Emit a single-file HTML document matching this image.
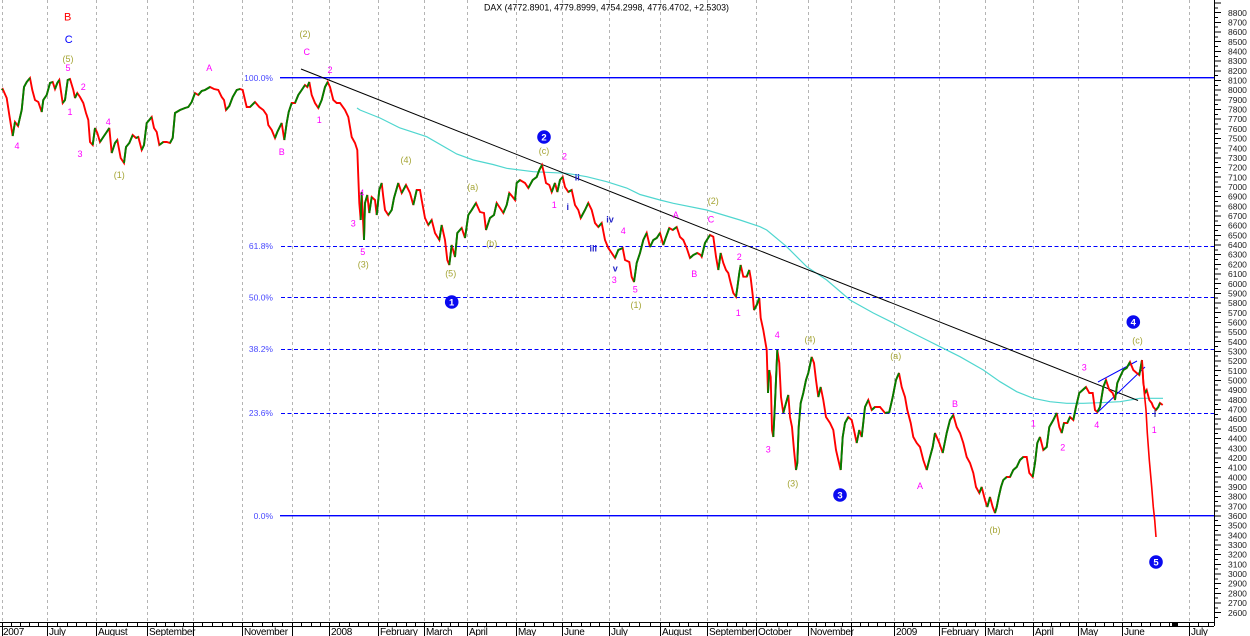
<!DOCTYPE html>
<html><head><meta charset="utf-8"><style>
html,body{margin:0;padding:0;background:#fff;}
svg{display:block;font-family:"Liberation Sans",Arial,sans-serif;}
.m{fill:#ff00ff;font-size:9px;text-anchor:middle;}
.o{fill:#a5a535;font-size:9px;text-anchor:middle;}
.r{fill:#2424c8;font-size:9px;text-anchor:middle;font-weight:bold;}
.f{fill:#4848ff;font-size:8.5px;text-anchor:end;}
.ax{fill:#202020;font-size:8.5px;}
.mo{fill:#000;font-size:10px;letter-spacing:-0.3px;}
.cn{fill:#fff;font-size:9.5px;font-weight:bold;text-anchor:middle;}
</style></head><body>
<svg width="1250" height="636" viewBox="0 0 1250 636" xmlns="http://www.w3.org/2000/svg">
<rect width="1250" height="636" fill="#fff"/>
<!-- vertical gray grid -->
<g stroke="#b4b4b4" stroke-width="1" stroke-dasharray="3 3" shape-rendering="crispEdges">
<path d="M2.5,0V621M47.5,0V621M96.5,0V621M147.5,0V621M193.5,0V621M242.5,0V621M292.5,0V621M329.5,0V621M378.5,0V621M424.5,0V621M467.5,0V621M516.5,0V621M562.5,0V621M609.5,0V621M660.5,0V621M707.5,0V621M756.5,0V621M808.5,0V621M851.5,0V621M894.5,0V621M939.5,0V621M985.5,0V621M1033.5,0V621M1078.5,0V621M1122.5,0V621M1189.5,0V621"/>
</g>
<!-- fib lines -->
<g stroke="#0000ff" stroke-width="1" fill="none" shape-rendering="crispEdges">
<line x1="280" y1="77.5" x2="1214" y2="77.5"/>
<line x1="280" y1="78.5" x2="1214" y2="78.5" stroke-opacity="0.4"/>
<line x1="280" y1="515.5" x2="1214" y2="515.5"/>
<line x1="280" y1="516.5" x2="1214" y2="516.5" stroke-opacity="0.4"/>
<g stroke-dasharray="4 2.5">
<line x1="281" y1="246.5" x2="1214" y2="246.5"/>
<line x1="281" y1="297.5" x2="1214" y2="297.5"/>
<line x1="281" y1="349.5" x2="1214" y2="349.5"/>
<line x1="281" y1="413.5" x2="1214" y2="413.5"/>
</g>
</g>
<text class="f" x="273" y="81">100.0%</text>
<text class="f" x="273" y="249">61.8%</text>
<text class="f" x="273" y="300.5">50.0%</text>
<text class="f" x="273" y="352">38.2%</text>
<text class="f" x="273" y="416">23.6%</text>
<text class="f" x="273" y="519">0.0%</text>
<!-- moving average -->
<polyline fill="none" stroke="#4fd6cf" stroke-width="1.2" points="357,108 360,110 380,118 400,128 426.7,136.7 456.7,154 473.3,160 493,164.5 506.7,168.3 533.3,171.7 566.7,173.3 586.7,176.7 606.7,181.7 626.7,188 640,194.5 660,200 673.3,203.3 706.7,210 740,220 760,226.7 766.7,230 786.7,246.7 806.7,266.7 826.7,280 850,300 873.3,313 893.3,323 906.7,330 926.7,340 940,346.7 960,356.7 983.3,370 1000,381.7 1016.7,391.7 1033.3,398.3 1050,401.7 1066.7,403.3 1083.3,403.3 1100,402.7 1120,401.7 1140,398.3 1163,398.3"/>
<!-- trendline -->
<line x1="301" y1="69" x2="1138" y2="400.5" stroke="#000" stroke-width="1"/>
<!-- channel -->
<g stroke="#0000ff" stroke-width="1">
<line x1="1098" y1="382" x2="1137" y2="361"/>
<line x1="1097" y1="413" x2="1145" y2="367"/>
</g>
<!-- price: red base -->
<polyline fill="none" stroke="#ff0000" stroke-width="1.9" stroke-linejoin="miter" stroke-miterlimit="3" points="1.7,90 2.7,89 6.7,98 9.3,115 12.7,136 15,122 18,126 21.7,110 24,87 26.7,82 30,78 32.3,90 35,100 38.3,102 41.7,112 43.3,100 46.7,95 50,83 52.7,82 55,89 57.3,83 59.3,80 62.7,103 65,100 67.7,80 70,79 73.3,90 75,98 77.3,93 80,97 83.3,103 86,113 88.3,120 90,142 92.7,145 95,128 97.3,133 100,142 103.3,137 106.7,132 109.3,128 111.7,153 115,143 117.3,140 120.7,158 124,163 126,147 129.3,143 132.7,135 136,138 138.3,137 141.7,150 144,145 146.7,123 149.3,120 151.7,117 154,128 156.7,132 159.3,145 163.3,142 166.7,142 170,143 172.7,138 175,113 180,110 185,108 188.3,107 191.7,102 195,93 198.3,95 201.7,91 205,90 210,87 214,89 218.3,90 221.7,97 224,100 226,110 229.3,106 232.7,97 236.7,90 240,89 242.7,90 245,100 246.7,107 250,107 255,102 259.3,107 263.3,110 266.7,115 268.3,125 271.7,130 275,138 277.3,132 281.7,123 284.3,140 286.7,123 288.7,112 291.7,103 295,103 298.3,95 301.7,90 305,85 307.3,87 309.3,82 311.7,95 315,103 318.3,108 321.7,100 325,87 327.7,82 330,87 333.3,100 336.7,103 340,103 345,110 348.3,117 351.7,137 355,143 357.3,150 358.3,177 359.3,203 360.7,220 361.7,192 362.7,213 364,240 365,203 367.3,195 369.3,213 371.7,197 375,200 376.7,215 379.3,190 381.7,183 383.3,197 385,210 388.3,215 391.7,210 394,198 398.3,183 401.7,193 406,185 410,193 413.3,205 416.7,190 420,190 421.7,200 425,218 428.3,225 431.7,220 435,233 439.3,240 441.7,225 445,240 447.3,260 449.3,265 451.7,245 455,257 457.3,233 461.7,228 465,238 468.3,215 471.7,210 476,203 480,212 484,213 486,230 490,218 494,215 496.7,203 500,208 503.3,213 506.7,205 509.3,193 512.7,197 515,200 516.7,183 520,180 525,183 528.3,188 532.7,180 536.7,177 539.3,170 542,165 544,173 546,183 549.3,185 551.7,192 555,183 557.3,192 560,180 562.7,177 565,187 568.3,192 571.7,190 575,205 578.3,210 580.7,218 585,210 588.3,203 591.7,210 595,223 598.3,227 601.7,223 605,240 608.3,248 611.7,253 615,258 618.3,250 622.7,248 625,260 629.3,262 631.7,277 634,282 636.7,263 640,253 643.3,240 646.7,233 650,247 653.3,240 656.7,238 660,233 663.3,245 666,237 669.3,228 672.7,230 676.7,227 680,237 683.3,240 686.7,248 690,258 693.3,255 697.3,253 700.7,255 701.7,256.7 705,243 710,235 713.3,236.7 716,256.7 718.3,270 720.7,253 723.3,263 726,270 728.3,273 730.7,283 733.3,293 736,296.7 737.3,288 739.3,273 740.7,265 743.3,276.7 746.7,276.7 749.3,270 750.7,278 752.7,295 754,310 756.7,305 759.3,298 760.7,318 763.3,330 765,340 766.7,350 768,393 769.3,370 770.7,377 772,430 773.3,437 775,403 777.3,350 779.3,363 781,397 783.3,413 786,403 788.3,395 790,417 792,427 794,450 796,470 797.3,463 798.7,427 800.7,403 803.3,393 806,380 808.3,373 811.7,357 814,363 816,380 818.3,397 820.7,387 823.3,400 826,417 830,423 833.3,430 836,450 838.3,460 840.7,470 842.7,437 845,423 848.3,417 851.7,420 854,430 856.7,443 859.3,430 861.7,437 865,407 868.3,400 871.7,410 875,407 880,407 885,413 889.3,412 892.7,397 896,380 899,373 901.7,387 905,397 907.3,410 910.7,423 913.3,437 916.7,443 920,447 923.3,460 926.7,470 930,457 932.7,447 935,433 939.3,443 942.7,453 946.7,433 950,420 953.3,415 956.7,427 960,433 963.3,443 966.7,457 970,463 973.3,473 976,487 979.3,493 981.7,487 985,500 987.3,507 990,497 992.7,507 995,513 996.7,507 998.7,497 1001,487 1003.3,480 1006.7,477 1010,477 1013.3,470 1016.7,467 1020,460 1023.3,457 1026.7,457 1029.3,473 1032.7,477 1035,463 1037.3,443 1040,437 1043.3,450 1046.7,447 1049.3,427 1053.3,420 1056.7,413 1059.3,427 1061.7,433 1064,423 1067.3,423 1070,417 1073.3,420 1076,407 1079.3,393 1082.7,390 1086,387 1089.3,393 1092.7,393 1095,410 1097.3,412 1100,407 1103.3,387 1106,380 1109.3,390 1112.7,393 1115,400 1117.3,383 1120,377 1123.3,370 1126.7,368 1130,362 1133.3,370 1136.7,373 1139.3,375 1142,360 1143.3,383 1145,393 1146.7,390 1149.3,400 1151.7,403 1153.3,407 1156,410 1158.3,407 1160,403 1162.7,405"/>
<!-- price: green up segments -->
<path fill="none" stroke="#008000" stroke-width="1.9" stroke-linejoin="miter" stroke-miterlimit="3" d="M1.7,90L2.7,89M12.7,136L15,122M18,126L21.7,110L24,87L26.7,82L30,78M41.7,112L43.3,100L46.7,95L50,83L52.7,82M55,89L57.3,83L59.3,80M62.7,103L65,100L67.7,80L70,79M75,98L77.3,93M92.7,145L95,128M100,142L103.3,137L106.7,132L109.3,128M111.7,153L115,143L117.3,140M124,163L126,147L129.3,143L132.7,135M136,138L138.3,137M141.7,150L144,145L146.7,123L149.3,120L151.7,117M159.3,145L163.3,142M170,143L172.7,138L175,113L180,110L185,108L188.3,107L191.7,102L195,93M198.3,95L201.7,91L205,90L210,87M226,110L229.3,106L232.7,97L236.7,90L240,89M250,107L255,102M275,138L277.3,132L281.7,123M284.3,140L286.7,123L288.7,112L291.7,103M295,103L298.3,95L301.7,90L305,85M307.3,87L309.3,82M318.3,108L321.7,100L325,87L327.7,82
M360.7,220L361.7,192M364,240L365,203L367.3,195M369.3,213L371.7,197M376.7,215L379.3,190L381.7,183M388.3,215L391.7,210L394,198L398.3,183M401.7,193L406,185M413.3,205L416.7,190M428.3,225L431.7,220M439.3,240L441.7,225M449.3,265L451.7,245M455,257L457.3,233L461.7,228M465,238L468.3,215L471.7,210L476,203M486,230L490,218L494,215L496.7,203M503.3,213L506.7,205L509.3,193M515,200L516.7,183L520,180M528.3,188L532.7,180L536.7,177L539.3,170L542,165M551.7,192L555,183M557.3,192L560,180L562.7,177M568.3,192L571.7,190M580.7,218L585,210L588.3,203M598.3,227L601.7,223M615,258L618.3,250L622.7,248M634,282L636.7,263L640,253L643.3,240L646.7,233M650,247L653.3,240L656.7,238L660,233M663.3,245L666,237L669.3,228M672.7,230L676.7,227M690,258L693.3,255L697.3,253
M701.7,256.7L705,243L710,235M718.3,270L720.7,253M736,296.7L737.3,288L739.3,273L740.7,265M746.7,276.7L749.3,270M754,310L756.7,305L759.3,298M768,393L769.3,370M773.3,437L775,403L777.3,350M783.3,413L786,403L788.3,395M796,470L797.3,463L798.7,427L800.7,403L803.3,393L806,380L808.3,373L811.7,357M818.3,397L820.7,387M840.7,470L842.7,437L845,423L848.3,417M856.7,443L859.3,430M861.7,437L865,407L868.3,400M871.7,410L875,407M885,413L889.3,412L892.7,397L896,380L899,373M926.7,470L930,457L932.7,447L935,433M942.7,453L946.7,433L950,420L953.3,415M979.3,493L981.7,487M987.3,507L990,497M995,513L996.7,507L998.7,497L1001,487L1003.3,480L1006.7,477M1010,477L1013.3,470L1016.7,467L1020,460L1023.3,457M1032.7,477L1035,463L1037.3,443L1040,437M1043.3,450L1046.7,447L1049.3,427L1053.3,420L1056.7,413M1061.7,433L1064,423M1067.3,423L1070,417M1073.3,420L1076,407L1079.3,393L1082.7,390L1086,387M1097.3,412L1100,407L1103.3,387L1106,380M1115,400L1117.3,383L1120,377L1123.3,370L1126.7,368L1130,362M1139.3,375L1142,360M1145,393L1146.7,390M1156,410L1158.3,407L1160,403"/>
<!-- projection -->
<polyline fill="none" stroke="#ff0000" stroke-width="1.6" points="1142,360 1144,390 1146,410 1147.3,433 1149.3,460 1151.7,487 1153.3,507 1154.7,520 1156,537"/>
<line x1="1155" y1="410" x2="1155" y2="417" stroke="#202080" stroke-width="1"/>
<!-- title -->
<text x="484" y="10.5" font-size="9" fill="#000" textLength="245" lengthAdjust="spacingAndGlyphs">DAX (4772.8901, 4779.8999, 4754.2998, 4776.4702, +2.5303)</text>
<!-- annotations -->
<text x="67.7" y="20.5" font-size="11" fill="#ff0000" text-anchor="middle">B</text>
<text x="68.7" y="43" font-size="11" fill="#0000ff" text-anchor="middle">C</text>
<text class="o" x="68" y="62.2">(5)</text>
<text class="m" x="68" y="71.2">5</text>
<text class="m" x="83.3" y="90.2">2</text>
<text class="m" x="70" y="115.2">1</text>
<text class="m" x="17" y="149.2">4</text>
<text class="m" x="80" y="157.2">3</text>
<text class="m" x="108.3" y="125.2">4</text>
<text class="o" x="119.3" y="178.2">(1)</text>
<text class="m" x="209.3" y="71.2">A</text>
<text class="o" x="305" y="37.2">(2)</text>
<text class="m" x="306.7" y="55.2">C</text>
<text class="m" x="330" y="73.2">2</text>
<text class="m" x="319.3" y="123.2">1</text>
<text class="m" x="281.7" y="155.2">B</text>
<text class="m" x="361.7" y="195.9">4</text>
<text class="m" x="353.3" y="226.5">3</text>
<text class="m" x="362.7" y="254.9">5</text>
<text class="o" x="363.3" y="267.5">(3)</text>
<text class="o" x="406" y="163.2">(4)</text>
<text class="o" x="472.7" y="189.9">(a)</text>
<text class="o" x="491.7" y="246.5">(b)</text>
<text class="o" x="450.7" y="276.5">(5)</text>
<text class="o" x="544" y="154.2">(c)</text>
<text class="m" x="564.5" y="159.7">2</text>
<text class="r" x="577.3" y="180.5">ii</text>
<text class="m" x="554.3" y="208.2">1</text>
<text class="r" x="567.7" y="209.9">i</text>
<text class="r" x="610" y="222.5">iv</text>
<text class="m" x="623.3" y="233.9">4</text>
<text class="r" x="593.3" y="251.5">iii</text>
<text class="r" x="615.3" y="271.5">v</text>
<text class="m" x="614.3" y="283.2">3</text>
<text class="m" x="635.3" y="292.5">5</text>
<text class="o" x="636" y="308.2">(1)</text>
<text class="m" x="675.7" y="218.2">A</text>
<text class="m" x="694.3" y="277.2">B</text>
<text class="o" x="713.3" y="203.9">(2)</text>
<text class="m" x="711" y="222.5">C</text>
<text class="m" x="739.3" y="260.2">2</text>
<text class="m" x="738.3" y="315.9">1</text>
<text class="m" x="777.3" y="338.2">4</text>
<text class="o" x="810" y="342.5">(4)</text>
<text class="m" x="768.3" y="452.5">3</text>
<text class="o" x="792.7" y="486.5">(3)</text>
<text class="o" x="895.7" y="359.2">(a)</text>
<text class="m" x="955" y="407.2">B</text>
<text class="m" x="920" y="489.2">A</text>
<text class="o" x="995" y="533.2">(b)</text>
<text class="m" x="1033.3" y="426.5">1</text>
<text class="m" x="1062.7" y="450.5">2</text>
<text class="m" x="1084.3" y="370.5">3</text>
<text class="m" x="1096.7" y="428.2">4</text>
<text class="o" x="1137.5" y="343.7">(c)</text>
<text class="m" x="1154.3" y="433.2">1</text>
<!-- wave circles -->
<g fill="#0a0af0">
<circle cx="451.7" cy="302" r="6.8"/>
<circle cx="544" cy="137" r="6.8"/>
<circle cx="840" cy="495" r="6.8"/>
<circle cx="1133.3" cy="322" r="6.8"/>
<circle cx="1156" cy="562" r="6.8"/>
</g>
<text class="cn" x="451.7" y="305.5">1</text>
<text class="cn" x="544" y="140.5">2</text>
<text class="cn" x="840" y="498.5">3</text>
<text class="cn" x="1133.3" y="325.5">4</text>
<text class="cn" x="1156" y="565.5">5</text>
<!-- right axis -->
<g stroke="#000" stroke-width="1" shape-rendering="crispEdges">
<line x1="1214.5" y1="0" x2="1214.5" y2="626"/>
<path d="M1214,3H1221M1214,12.7H1221M1214,22.4H1221M1214,32.1H1221M1214,41.7H1221M1214,51.4H1221M1214,61.1H1221M1214,70.8H1221M1214,80.4H1221M1214,90.1H1221M1214,99.8H1221M1214,109.5H1221M1214,119.1H1221M1214,128.8H1221M1214,138.5H1221M1214,148.2H1221M1214,157.9H1221M1214,167.5H1221M1214,177.2H1221M1214,186.9H1221M1214,196.6H1221M1214,206.2H1221M1214,215.9H1221M1214,225.6H1221M1214,235.3H1221M1214,245H1221M1214,254.6H1221M1214,264.3H1221M1214,274H1221M1214,283.7H1221M1214,293.3H1221M1214,303H1221M1214,312.7H1221M1214,322.4H1221M1214,332H1221M1214,341.7H1221M1214,351.4H1221M1214,361.1H1221M1214,370.7H1221M1214,380.4H1221M1214,390.1H1221M1214,399.8H1221M1214,409.5H1221M1214,419.1H1221M1214,428.8H1221M1214,438.5H1221M1214,448.2H1221M1214,457.8H1221M1214,467.5H1221M1214,477.2H1221M1214,486.9H1221M1214,496.5H1221M1214,506.2H1221M1214,515.9H1221M1214,525.6H1221M1214,535.2H1221M1214,544.9H1221M1214,554.6H1221M1214,564.3H1221M1214,574H1221M1214,583.6H1221M1214,593.3H1221M1214,603H1221M1214,612.7H1221"/>
<path d="M1214,7.9H1218M1214,17.6H1218M1214,27.2H1218M1214,36.9H1218M1214,46.6H1218M1214,56.3H1218M1214,65.9H1218M1214,75.6H1218M1214,85.3H1218M1214,95H1218M1214,104.6H1218M1214,114.3H1218M1214,124H1218M1214,133.7H1218M1214,143.3H1218M1214,153H1218M1214,162.7H1218M1214,172.4H1218M1214,182H1218M1214,191.7H1218M1214,201.4H1218M1214,211.1H1218M1214,220.8H1218M1214,230.4H1218M1214,240.1H1218M1214,249.8H1218M1214,259.5H1218M1214,269.1H1218M1214,278.8H1218M1214,288.5H1218M1214,298.2H1218M1214,307.8H1218M1214,317.5H1218M1214,327.2H1218M1214,336.9H1218M1214,346.5H1218M1214,356.2H1218M1214,365.9H1218M1214,375.6H1218M1214,385.2H1218M1214,394.9H1218M1214,404.6H1218M1214,414.3H1218M1214,424H1218M1214,433.6H1218M1214,443.3H1218M1214,453H1218M1214,462.7H1218M1214,472.3H1218M1214,482H1218M1214,491.7H1218M1214,501.4H1218M1214,511H1218M1214,520.7H1218M1214,530.4H1218M1214,540.1H1218M1214,549.7H1218M1214,559.4H1218M1214,569.1H1218M1214,578.8H1218M1214,588.4H1218M1214,598.1H1218M1214,607.8H1218M1214,617.5H1218"/>
</g>
<g class="ax">
<text x="1228" y="15.8">8800</text><text x="1228" y="25.5">8700</text><text x="1228" y="35.1">8600</text><text x="1228" y="44.8">8500</text><text x="1228" y="54.5">8400</text><text x="1228" y="64.2">8300</text><text x="1228" y="73.9">8200</text><text x="1228" y="83.5">8100</text><text x="1228" y="93.2">8000</text><text x="1228" y="102.9">7900</text><text x="1228" y="112.6">7800</text><text x="1228" y="122.2">7700</text><text x="1228" y="131.9">7600</text><text x="1228" y="141.6">7500</text><text x="1228" y="151.3">7400</text><text x="1228" y="161">7300</text><text x="1228" y="170.6">7200</text><text x="1228" y="180.3">7100</text><text x="1228" y="190">7000</text><text x="1228" y="199.7">6900</text><text x="1228" y="209.3">6800</text><text x="1228" y="219">6700</text><text x="1228" y="228.7">6600</text><text x="1228" y="238.4">6500</text><text x="1228" y="248.1">6400</text><text x="1228" y="257.7">6300</text><text x="1228" y="267.4">6200</text><text x="1228" y="277.1">6100</text><text x="1228" y="286.8">6000</text><text x="1228" y="296.4">5900</text><text x="1228" y="306.1">5800</text><text x="1228" y="315.8">5700</text><text x="1228" y="325.5">5600</text><text x="1228" y="335.1">5500</text><text x="1228" y="344.8">5400</text><text x="1228" y="354.5">5300</text><text x="1228" y="364.2">5200</text><text x="1228" y="373.8">5100</text><text x="1228" y="383.5">5000</text><text x="1228" y="393.2">4900</text><text x="1228" y="402.9">4800</text><text x="1228" y="412.6">4700</text><text x="1228" y="422.2">4600</text><text x="1228" y="431.9">4500</text><text x="1228" y="441.6">4400</text><text x="1228" y="451.3">4300</text><text x="1228" y="460.9">4200</text><text x="1228" y="470.6">4100</text><text x="1228" y="480.3">4000</text><text x="1228" y="490">3900</text><text x="1228" y="499.6">3800</text><text x="1228" y="509.3">3700</text><text x="1228" y="519">3600</text><text x="1228" y="528.7">3500</text><text x="1228" y="538.3">3400</text><text x="1228" y="548">3300</text><text x="1228" y="557.7">3200</text><text x="1228" y="567.4">3100</text><text x="1228" y="577.1">3000</text><text x="1228" y="586.7">2900</text><text x="1228" y="596.4">2800</text><text x="1228" y="606.1">2700</text><text x="1228" y="615.8">2600</text>
</g>
<!-- bottom axis ruler -->
<g stroke="#000" stroke-width="1" shape-rendering="crispEdges" fill="none">
<line x1="0" y1="622.5" x2="1214" y2="622.5"/>
<line x1="0" y1="626.5" x2="1214" y2="626.5"/>
<path d="M2.5,622V636M47.5,622V636M96.5,622V636M147.5,622V636M193.5,622V636M242.5,622V636M292.5,622V636M329.5,622V636M378.5,622V636M424.5,622V636M467.5,622V636M516.5,622V636M562.5,622V636M609.5,622V636M660.5,622V636M707.5,622V636M756.5,622V636M808.5,622V636M851.5,622V636M894.5,622V636M939.5,622V636M985.5,622V636M1033.5,622V636M1078.5,622V636M1122.5,622V636M1189.5,622V636"/>
<path d="M11.5,622V627M20.5,622V627M29.5,622V627M38.5,622V627M57.5,622V627M67.5,622V627M76.5,622V627M86.5,622V627M106.5,622V627M116.5,622V627M127.5,622V627M137.5,622V627M156.5,622V627M165.5,622V627M174.5,622V627M183.5,622V627M202.5,622V627M212.5,622V627M222.5,622V627M232.5,622V627M252.5,622V627M262.5,622V627M272.5,622V627M282.5,622V627M301.5,622V627M311.5,622V627M320.5,622V627M339.5,622V627M349.5,622V627M358.5,622V627M368.5,622V627M387.5,622V627M396.5,622V627M406.5,622V627M415.5,622V627M433.5,622V627M441.5,622V627M450.5,622V627M458.5,622V627M477.5,622V627M486.5,622V627M496.5,622V627M506.5,622V627M525.5,622V627M534.5,622V627M543.5,622V627M553.5,622V627M571.5,622V627M581.5,622V627M590.5,622V627M599.5,622V627M619.5,622V627M629.5,622V627M639.5,622V627M650.5,622V627M669.5,622V627M679.5,622V627M688.5,622V627M698.5,622V627M717.5,622V627M727.5,622V627M736.5,622V627M746.5,622V627M766.5,622V627M777.5,622V627M787.5,622V627M797.5,622V627M816.5,622V627M825.5,622V627M834.5,622V627M842.5,622V627M860.5,622V627M868.5,622V627M877.5,622V627M885.5,622V627M903.5,622V627M912.5,622V627M921.5,622V627M930.5,622V627M948.5,622V627M957.5,622V627M966.5,622V627M975.5,622V627M994.5,622V627M1004.5,622V627M1014.5,622V627M1023.5,622V627M1042.5,622V627M1051.5,622V627M1060.5,622V627M1069.5,622V627M1086.5,622V627M1095.5,622V627M1104.5,622V627M1113.5,622V627M1131.5,622V627M1141.5,622V627M1150.5,622V627M1160.5,622V627M1169.5,622V627M1198.5,622V627M1208.5,622V627"/>
</g>
<rect x="1172" y="622" width="6" height="5" fill="#000"/>
<g class="mo">
<text x="3" y="635">2007</text>
<text x="49" y="635">July</text>
<text x="98" y="635">August</text>
<text x="149" y="635">September</text>
<text x="244" y="635">November</text>
<text x="331" y="635">2008</text>
<text x="380" y="635">February</text>
<text x="426" y="635">March</text>
<text x="469" y="635">April</text>
<text x="518" y="635">May</text>
<text x="564" y="635">June</text>
<text x="611" y="635">July</text>
<text x="662" y="635">August</text>
<text x="709" y="635">September</text>
<text x="758" y="635">October</text>
<text x="810" y="635">November</text>
<text x="896" y="635">2009</text>
<text x="941" y="635">February</text>
<text x="987" y="635">March</text>
<text x="1035" y="635">April</text>
<text x="1080" y="635">May</text>
<text x="1124" y="635">June</text>
<text x="1191" y="635">July</text>
</g>
</svg>
</body></html>
